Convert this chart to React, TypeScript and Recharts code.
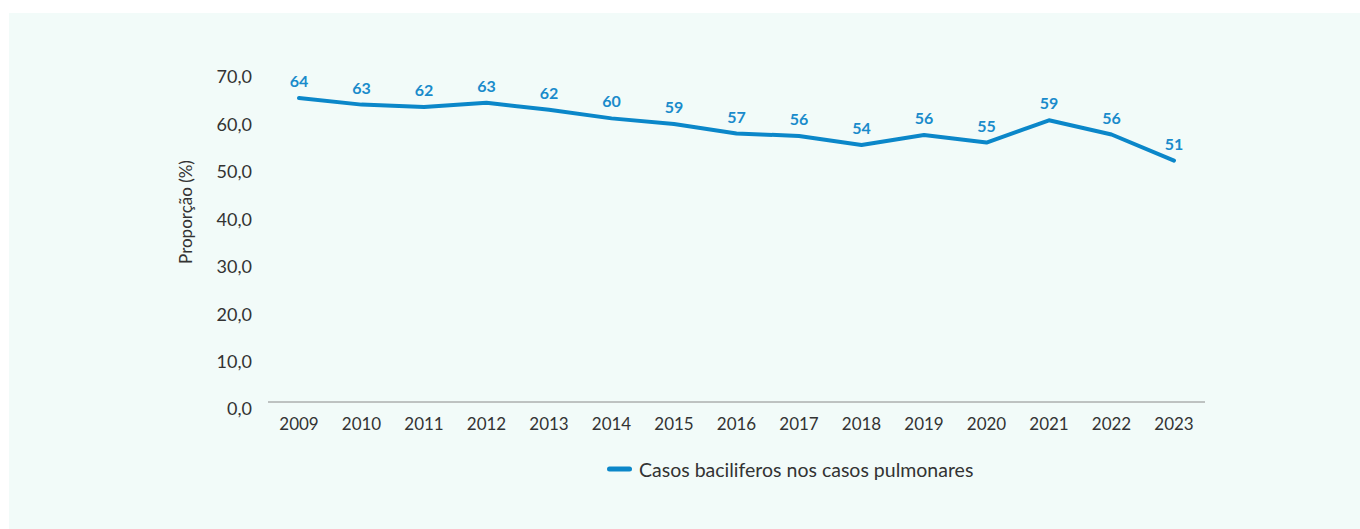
import React from 'react';
import { LineChart, Line, XAxis, YAxis, Legend, LabelList } from 'recharts';

const years = ['2009', '2010', '2011', '2012', '2013', '2014', '2015', '2016', '2017', '2018', '2019', '2020', '2021', '2022', '2023'];
const bacilliferous = [64.1, 62.7, 62.2, 63.1, 61.6, 59.8, 58.6, 56.6, 56.1, 54.2, 56.3, 54.7, 59.4, 56.4, 50.9];
const yTicks = [0, 10, 20, 30, 40, 50, 60, 70];

const seriesName = 'Casos baciliferos nos casos pulmonares';
const yTitle = 'Proporção (%)';

const data = years.map((year, i) => ({ year, value: bacilliferous[i] }));

const FONT = 'Lato, "Open Sans", sans-serif';
const BLUE = '#0b87c9';
const TEXT = '#333333';

const formatTick = (v: number) => v.toFixed(1).replace('.', ',');

const YTitle = (props: any) => {
  const { viewBox } = props;
  const cx = viewBox.x + 26;
  const cy = viewBox.y + viewBox.height / 2 - 24;
  return (
    <text
      x={cx}
      y={cy}
      transform={`rotate(-90, ${cx}, ${cy})`}
      textAnchor="middle"
      dominantBaseline="central"
      fill={TEXT}
      fontSize={17}
      fontFamily={FONT}
    >
      {yTitle}
    </text>
  );
};

const LegendContent = () => (
  <div style={{ height: 70, position: 'relative' }}>
    <div
      style={{
        position: 'absolute',
        top: 37,
        left: 598,
        transform: 'translateY(-50%)',
        display: 'flex',
        alignItems: 'center',
        fontFamily: FONT,
        fontSize: 19.5,
        color: TEXT,
        whiteSpace: 'nowrap',
      }}
    >
      <span
        style={{
          display: 'inline-block',
          width: 25,
          height: 5,
          borderRadius: 3,
          background: BLUE,
          marginRight: 7,
        }}
      />
      {seriesName}
    </div>
  </div>
);

const App: React.FC = () => {
  return (
    <div
      style={{
        position: 'fixed',
        left: 9,
        top: 13,
        width: 1351,
        height: 516,
        background: '#f2fbf9',
      }}
    >
      <LineChart
        width={1351}
        height={516}
        data={data}
        margin={{ top: 57, right: 155, left: 150, bottom: 27 }}
      >
        <XAxis
          dataKey="year"
          padding={{ left: 31, right: 31 }}
          axisLine={{ stroke: '#8a8a8a', strokeWidth: 1 }}
          tickLine={false}
          tickSize={0}
          tickMargin={16}
          tick={{ fill: TEXT, fontSize: 17, fontFamily: FONT }}
          interval={0}
        />
        <YAxis
          width={109}
          domain={[0, 70]}
          ticks={yTicks}
          tickFormatter={formatTick}
          axisLine={false}
          tickLine={false}
          tickSize={0}
          tickMargin={16}
          tick={{ fill: TEXT, fontSize: 18, fontFamily: FONT, dy: 7 }}
          label={<YTitle />}
        />
        <Legend verticalAlign="bottom" content={<LegendContent />} wrapperStyle={{ width: 1351, left: 0 }} />
        <Line
          type="linear"
          dataKey="value"
          name={seriesName}
          stroke={BLUE}
          strokeWidth={4}
          strokeLinejoin="round"
          strokeLinecap="round"
          dot={false}
          activeDot={false}
          isAnimationActive={false}
        >
          <LabelList
            dataKey="value"
            position="top"
            offset={11}
            formatter={(v: any) => Math.round(Number(v))}
            fill="#1a8bcb"
            fontSize={16}
            fontWeight={700}
            fontFamily={FONT}
          />
        </Line>
      </LineChart>
    </div>
  );
};

export default App;
